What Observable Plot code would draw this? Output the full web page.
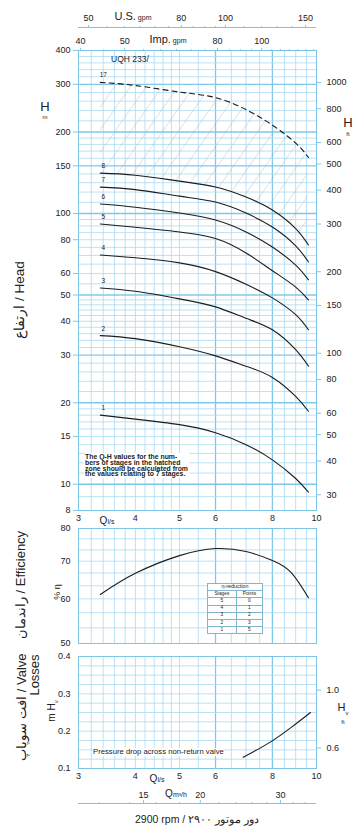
<!DOCTYPE html>
<html><head><meta charset="utf-8">
<script src="https://cdn.jsdelivr.net/npm/d3@7"></script>
<script src="https://cdn.jsdelivr.net/npm/@observablehq/plot@0.6"></script>
<style>
html,body{margin:0;padding:0;background:#fff;}
#wrap{position:relative;width:360px;height:829px;overflow:hidden;font-family:"Liberation Sans",Arial,sans-serif;color:#222;background:#fff;}
#wrap svg{position:absolute;left:0;}
.lbl{position:absolute;white-space:nowrap;line-height:1;transform:translate(-50%,-50%);}
.rot{transform:translate(-50%,-50%) rotate(-90deg);}
.note{position:absolute;background:#fff;font-weight:bold;white-space:nowrap;}
table.red{position:absolute;border-collapse:collapse;background:#fff;font-size:4.8px;line-height:1;}
table.red td{border:0.6px solid #7fb5cf;text-align:center;padding:0 1px;height:6.2px;}
</style></head><body><div id="wrap"></div>
<script>
// ---------------- data ----------------
const FLOW = [3.35, 4.0, 5.0, 6.0, 7.0, 8.0, 9.0, 9.6];          // Q l/s
const STAGES = ["1", "2", "3", "4", "5", "6", "7", "8"];
const HEAD_1 = [18.0, 17.4, 16.6, 15.5, 14.0, 12.3, 10.5, 9.35];
const HEAD_2 = [35.4, 34.5, 32.2, 29.8, 27.3, 24.8, 21.1, 18.6];
const HEAD_3 = [53.1, 51.6, 48.4, 45.2, 41.0, 37.2, 31.4, 27.3];
const HEAD_4 = [70.3, 68.6, 65.7, 61.0, 54.8, 48.8, 42.3, 37.2];
const HEAD_5 = [91.5, 89.0, 85.5, 80.8, 71.5, 61.5, 53.5, 48.0];
const HEAD_6 = [108.4, 105.5, 100.4, 94.6, 85.5, 75.2, 64.5, 56.9];
const HEAD_7 = [125.2, 122.5, 115.9, 110.2, 100.4, 89.1, 76.0, 66.2];
const HEAD_8 = [141.0, 138.5, 131.7, 125.2, 115.0, 103.0, 88.0, 76.5];
const HEAD_17 = [305, 297, 281, 268, 242, 212, 182, 161];
const STAGE_17 = "17";

const EFF_FLOW = [3.35, 4.0, 5.0, 6.0, 7.0, 8.0, 8.8, 9.6];
const EFF = [61.1, 66.6, 71.6, 73.7, 72.8, 70.2, 66.8, 60.3];

const VALVE_FLOW = [6.9, 7.9, 8.8, 9.7];
const VALVE_LOSS = [0.13, 0.17, 0.21, 0.25];

const Q_TICKS = [3, 4, 5, 6, 8, 10];
const HEAD_TICKS = [400, 300, 200, 150, 100, 80, 60, 50, 40, 30, 20, 15, 10, 8];
const HEAD_FT_TICKS = [1000, 800, 600, 500, 400, 300, 200, 150, 100, 80, 60, 50, 40, 30];
const EFF_TICKS = [80, 70, 60, 50];
const VALVE_TICKS = [0.4, 0.3, 0.2, 0.1];
const VALVE_FT_LABELS = ["1.0", "0.6"];
const VALVE_FT_AT_M = [0.31, 0.155];
const US_GPM_LABELS = [50, 80, 100, 150];
const US_GPM_MINOR = [55, 60, 65, 70, 75, 85, 90, 95, 110, 120, 130, 140];
const IMP_GPM_LABELS = [40, 50, 80, 100];
const IMP_GPM_MINOR = [45, 55, 60, 65, 70, 75, 85, 90, 95, 105, 110, 115, 120, 125, 130];
const M3H_LABELS = [15, 20, 30];
const M3H_MINOR = [12, 14, 16, 18, 22, 24, 26, 28, 32, 34];

const Q_GRID_MINOR = [3.2, 3.4, 3.6, 3.8, 4, 4.2, 4.4, 4.6, 4.8, 5, 5.5, 6.5, 7, 7.5, 8.5, 9, 9.5];
const Q_GRID_MAJOR = [6, 8];
const H_GRID_MINOR = [9, 11, 12, 13, 14, 15, 16, 17, 18, 19, 22, 24, 26, 28, 32, 34, 36, 38, 40, 42, 44, 46, 48,
  55, 60, 65, 70, 75, 80, 85, 90, 95, 110, 120, 130, 140, 160, 170, 180, 190, 220, 240, 260, 280, 320, 340, 360, 380];
const H_GRID_MAJOR = [10, 20, 30, 50, 100, 150, 200, 300];
const EFF_GRID = [53.3, 56.7, 60, 63.3, 66.7, 70, 73.3, 76.7];
const VALVE_GRID = [0.125, 0.15, 0.175, 0.2, 0.225, 0.25, 0.275, 0.3, 0.325, 0.35, 0.375];

const RED_STAGES = ["5", "4", "3", "2", "1"];
const RED_POINTS = ["0", "1", "2", "3", "5"];

// unit conversions
const US_GPM_PER_LS = 15.85, IMP_GPM_PER_LS = 13.198, M3H_PER_LS = 3.6, FT_PER_M = 3.2808;

// ---------------- styling ----------------
const GRID = "#a9daf0", GRID_MAJOR = "#80c8e8", FRAME = "#7cc5e7", INK = "#1c1c1c";
const FONT = '"Liberation Sans", Arial, sans-serif';
const ALL = 1000; // keep every supplied tick label on log axes
const common = {
  width: 360, marginLeft: 78, marginRight: 44,
  style: {fontFamily: FONT, fontSize: "9px", color: "#222", background: "transparent", overflow: "visible"}
};
const xScale = {type: "log", domain: [3, 10], label: null};
const qGrid = [
  Plot.ruleX(Q_GRID_MINOR, {stroke: GRID, strokeWidth: 0.8}),
  Plot.ruleX(Q_GRID_MAJOR, {stroke: GRID_MAJOR, strokeWidth: 1.3})
];

// ---------------- head panel ----------------
const HEADS = [HEAD_1, HEAD_2, HEAD_3, HEAD_4, HEAD_5, HEAD_6, HEAD_7, HEAD_8];
const headRows = HEADS.flatMap((arr, s) => FLOW.map((q, i) => ({q, h: arr[i], stage: STAGES[s]})));
const rows17 = FLOW.map((q, i) => ({q, h: HEAD_17[i]}));
const hatchRows = FLOW.map((q, i) => ({q, lo: HEAD_8[i], hi: HEAD_17[i]}));
const starts = HEADS.map((arr, s) => ({q: FLOW[0], h: arr[0], label: STAGES[s]}))
  .concat([{q: FLOW[0], h: HEAD_17[0], label: STAGE_17}]);

const head = Plot.plot({
  ...common, height: 524, marginTop: 50, marginBottom: 14,
  x: xScale, y: {type: "log", domain: [8, 400], label: null},
  marks: [
    ...qGrid,
    Plot.ruleY(H_GRID_MINOR, {stroke: GRID, strokeWidth: 0.8}),
    Plot.ruleY(H_GRID_MAJOR, {stroke: GRID_MAJOR, strokeWidth: 1.3}),
    Plot.areaY(hatchRows, {x: "q", y1: "lo", y2: "hi", fill: "url(#hatch)", curve: "natural"}),
    Plot.frame({stroke: FRAME}),
    Plot.line(headRows, {x: "q", y: "h", z: "stage", stroke: INK, strokeWidth: 1.1, curve: "natural"}),
    Plot.line(rows17, {x: "q", y: "h", stroke: INK, strokeWidth: 1.1, strokeDasharray: "5,4", curve: "natural"}),
    Plot.text(starts, {x: "q", y: "h", text: "label", dx: 3, dy: -7, fontSize: 6.5, fill: INK}),
    Plot.axisY(HEAD_TICKS, {anchor: "left", ticks: ALL, tickSize: 5, tickPadding: 3, stroke: GRID_MAJOR, fill: "#222", label: null, tickFormat: d => String(d)}),
    Plot.axisY(HEAD_FT_TICKS.map(f => f / FT_PER_M), {anchor: "right", ticks: ALL, tickSize: 4, tickPadding: 6, stroke: GRID_MAJOR, fill: "#222", label: null, tickFormat: d => String(Math.round(d * FT_PER_M))}),
    Plot.axisX(Q_TICKS, {anchor: "bottom", ticks: ALL, tickSize: 0, tickPadding: 4, fill: "#222", label: null, tickFormat: d => String(d)}),
    Plot.axisX(IMP_GPM_LABELS.map(g => g / IMP_GPM_PER_LS), {anchor: "top", ticks: ALL, tickSize: 3, tickPadding: 4, stroke: GRID_MAJOR, fill: "#222", label: null, tickFormat: d => String(Math.round(d * IMP_GPM_PER_LS))}),
    Plot.axisX(IMP_GPM_MINOR.map(g => g / IMP_GPM_PER_LS), {anchor: "top", tickSize: 2, stroke: GRID_MAJOR, label: null, tickFormat: () => ""}),
    Plot.ruleY([400], {dy: -23, stroke: FRAME, strokeWidth: 1.2}),
    Plot.axisX(US_GPM_LABELS.map(g => g / US_GPM_PER_LS), {anchor: "top", ticks: ALL, dy: -23, tickSize: 3, tickPadding: 4, stroke: GRID_MAJOR, fill: "#222", label: null, tickFormat: d => String(Math.round(d * US_GPM_PER_LS))}),
    Plot.axisX(US_GPM_MINOR.map(g => g / US_GPM_PER_LS), {anchor: "top", dy: -23, tickSize: 2, stroke: GRID_MAJOR, label: null, tickFormat: () => ""})
  ]
});
// hatch pattern for the hatched zone
{
  const ns = "http://www.w3.org/2000/svg";
  const defs = document.createElementNS(ns, "defs");
  const pat = document.createElementNS(ns, "pattern");
  pat.setAttribute("id", "hatch");
  pat.setAttribute("patternUnits", "userSpaceOnUse");
  pat.setAttribute("width", "13");
  pat.setAttribute("height", "13");
  pat.setAttribute("patternTransform", "rotate(35)");
  const ln = document.createElementNS(ns, "line");
  ln.setAttribute("x1", "0"); ln.setAttribute("y1", "0");
  ln.setAttribute("x2", "0"); ln.setAttribute("y2", "13");
  ln.setAttribute("stroke", "#a5a5a5"); ln.setAttribute("stroke-width", "0.6");
  pat.appendChild(ln); defs.appendChild(pat);
  head.insertBefore(defs, head.firstChild);
}

// ---------------- efficiency panel ----------------
const effRows = EFF_FLOW.map((q, i) => ({q, e: EFF[i]}));
const eff = Plot.plot({
  ...common, height: 128, marginTop: 8, marginBottom: 5,
  x: xScale, y: {type: "log", domain: [50, 80], label: null},
  marks: [
    ...qGrid,
    Plot.ruleY(EFF_GRID, {stroke: GRID, strokeWidth: 0.8}),
    Plot.frame({stroke: FRAME}),
    Plot.line(effRows, {x: "q", y: "e", stroke: INK, strokeWidth: 1.1, curve: "natural"}),
    Plot.axisY(EFF_TICKS, {anchor: "left", ticks: ALL, tickSize: 0, tickPadding: 8, fill: "#222", label: null, tickFormat: d => String(d)}),
    Plot.axisX([], {anchor: "bottom", label: null})
  ]
});

// ---------------- valve losses panel ----------------
const valveRows = VALVE_FLOW.map((q, i) => ({q, v: VALVE_LOSS[i]}));
const ftMap = new Map(VALVE_FT_AT_M.map((m, i) => [m, VALVE_FT_LABELS[i]]));
const BELOW = 147; // offset from the frame top to the m³/h axis line
const valve = Plot.plot({
  ...common, height: 184, marginTop: 11, marginBottom: 61,
  x: xScale, y: {domain: [0.1, 0.4], label: null},
  marks: [
    ...qGrid,
    Plot.ruleY(VALVE_GRID, {stroke: GRID, strokeWidth: 0.8}),
    Plot.frame({stroke: FRAME}),
    Plot.line(valveRows, {x: "q", y: "v", stroke: INK, strokeWidth: 1.1, curve: "natural"}),
    Plot.axisY(VALVE_TICKS, {anchor: "left", tickSize: 0, tickPadding: 8, fill: "#222", label: null, tickFormat: d => d.toFixed(1)}),
    Plot.axisY(VALVE_FT_AT_M, {anchor: "right", tickSize: 4, tickPadding: 6, stroke: GRID_MAJOR, fill: "#222", label: null, tickFormat: d => ftMap.get(d)}),
    Plot.axisX(Q_TICKS, {anchor: "bottom", ticks: ALL, tickSize: 0, tickPadding: 4, fill: "#222", label: null, tickFormat: d => String(d)}),
    Plot.ruleY([0.1], {dy: 35, stroke: FRAME, strokeWidth: 1.2}),
    Plot.axisX(M3H_LABELS.map(m => m / M3H_PER_LS), {anchor: "top", ticks: ALL, dy: BELOW, tickSize: 4, tickPadding: 2, stroke: GRID_MAJOR, fill: "#222", label: null, tickFormat: d => String(Math.round(d * M3H_PER_LS))}),
    Plot.axisX(M3H_MINOR.map(m => m / M3H_PER_LS), {anchor: "top", dy: BELOW, tickSize: 2, stroke: GRID_MAJOR, label: null, tickFormat: () => ""})
  ]
});

// ---------------- assemble ----------------
const wrap = document.getElementById("wrap");
head.style.top = "0px"; eff.style.top = "520px"; valve.style.top = "645px";
wrap.append(head, eff, valve);

function lbl(html, cx, cy, css = "", cls = "lbl") {
  const d = document.createElement("div");
  d.className = cls;
  d.innerHTML = html;
  d.style.left = cx + "px"; d.style.top = cy + "px";
  d.style.cssText += css;
  wrap.appendChild(d);
  return d;
}
// top unit labels
lbl('<span style="font-size:11px">U.S.</span><span style="font-size:7px"> gpm</span>', 133, 15);
lbl('<span style="font-size:11px">Imp.</span><span style="font-size:7px"> gpm</span>', 168, 38);
lbl('UQH 233/', 130, 59, "font-size:8.5px");
// head axis titles
lbl('H', 45, 106, "font-size:13px");
lbl('m', 45, 117, "font-size:6px");
lbl('H', 348, 122, "font-size:13px");
lbl('ft', 348, 134, "font-size:6px");
lbl('ارتفاع / Head', 20, 300, "font-size:13.5px", "lbl rot");
// Q labels
lbl('<span style="font-size:10px">Q</span><span style="font-size:7px">l/s</span>', 107, 519);
lbl('<span style="font-size:10px">Q</span><span style="font-size:7px">l/s</span>', 157, 777);
lbl('<span style="font-size:10px">Q</span><span style="font-size:7px">m³/h</span>', 176, 792);
// efficiency
lbl('راندمان / Efficiency', 20, 585, "font-size:13px", "lbl rot");
lbl('% η', 57, 592, "font-size:9px", "lbl rot");
// valve
lbl('افت سوپاپ / Valve', 21, 707, "font-size:13px", "lbl rot");
lbl('Losses', 34, 675, "font-size:13px", "lbl rot");
lbl('m H<sub style="font-size:6px">v</sub>', 53, 711, "font-size:10px", "lbl rot");
lbl('H<sub style="font-size:6px">v</sub>', 343, 709, "font-size:11px");
lbl('ft', 343, 722, "font-size:6px");
lbl('2900 rpm / دور موتور ۲۹۰۰', 197, 819, "font-size:10.5px");

// notes
const note = document.createElement("div");
note.className = "note";
note.style.cssText += "left:84px;top:453px;font-size:6.9px;line-height:5.8px;padding:1px 1px;";
note.innerHTML = "The Q-H values for the num-<br>bers of stages in the hatched<br>zone should be calculated from<br>the values relating to 7 stages.";
wrap.appendChild(note);
const pd = document.createElement("div");
pd.className = "note";
pd.style.cssText += "left:93px;top:748px;font-size:7.7px;font-weight:normal;line-height:8px;";
pd.textContent = "Pressure drop across non-return valve";
wrap.appendChild(pd);

// eta-reduction table
const tbl = document.createElement("table");
tbl.className = "red";
tbl.style.left = "207px"; tbl.style.top = "583px"; tbl.style.width = "56px";
let html = '<tr><td colspan="2" style="font-size:5.4px">η-reduction</td></tr><tr><td>Stages</td><td>Points</td></tr>';
RED_STAGES.forEach((s, i) => { html += `<tr><td>${s}</td><td>${RED_POINTS[i]}</td></tr>`; });
tbl.innerHTML = html;
wrap.appendChild(tbl);
</script></body></html>
